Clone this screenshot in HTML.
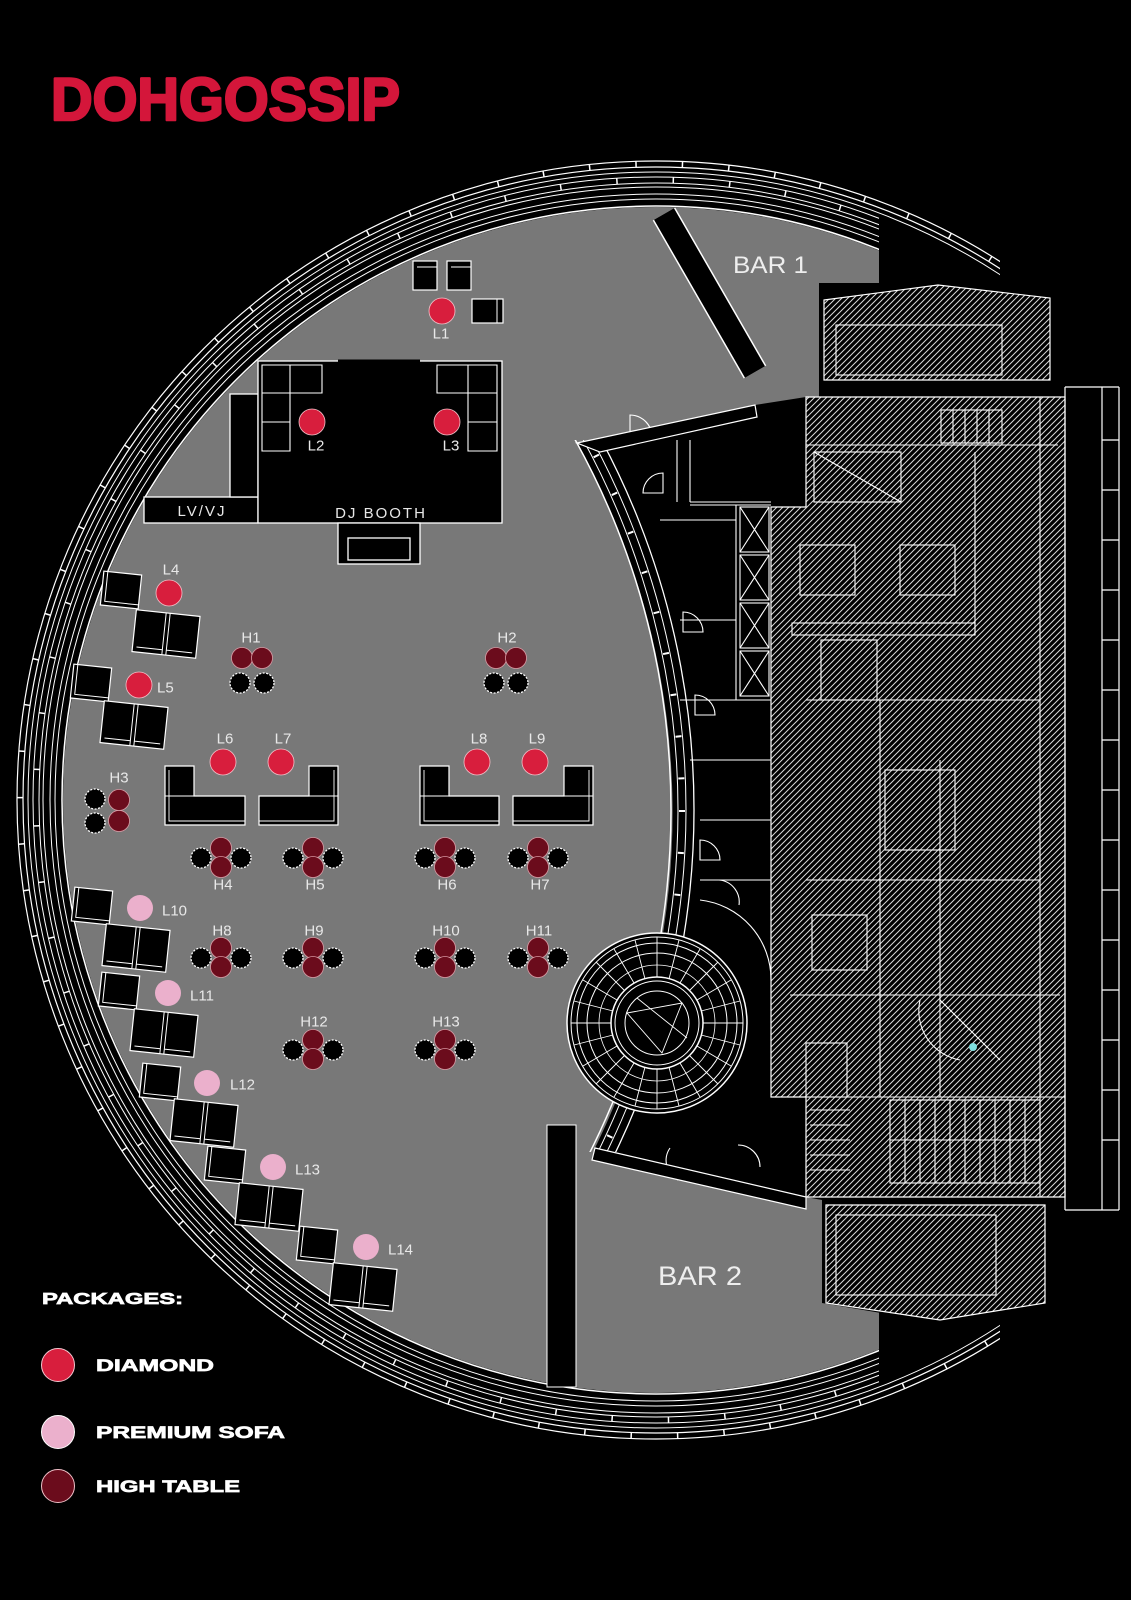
<!DOCTYPE html>
<html><head><meta charset="utf-8"><style>
html,body{margin:0;padding:0;background:#000;}
svg{display:block;}
.lb{font-family:"Liberation Sans",sans-serif;font-size:15px;fill:#e8e8e8;}
.lg{font-family:"Liberation Sans",sans-serif;font-weight:bold;fill:#fff;stroke:#fff;stroke-width:0.7;}
</style></head><body>
<svg width="1131" height="1600" viewBox="0 0 1131 1600" xmlns="http://www.w3.org/2000/svg">
<defs>
<clipPath id="cg"><rect x="0" y="0" width="879" height="1600"/></clipPath>
<clipPath id="co"><rect x="0" y="0" width="1000" height="1600"/></clipPath>
<clipPath id="cw"><rect x="500" y="440" width="300" height="712"/></clipPath>
<pattern id="h" patternUnits="userSpaceOnUse" width="6" height="6">
<path d="M-1,1 l2,-2 M0,6 l6,-6 M5,7 l2,-2" stroke="#d8d8d8" stroke-width="1"/>
</pattern>
<g id="sc"><rect x="-19" y="-17" width="38" height="34" fill="#000" stroke="#fff" stroke-width="1.2"/><path d="M-15,-17 V13 H19" fill="none" stroke="#fff" stroke-width="1"/></g>
<g id="dc"><rect x="-32" y="-21" width="64" height="42" fill="#000" stroke="#fff" stroke-width="1.2"/><path d="M-2,-21 V21 M2,-21 V21 M-28,16 H-2 M2,16 H28" fill="none" stroke="#fff" stroke-width="1"/></g>
<g id="ht"><circle cx="-20" cy="10" r="10" fill="#000" stroke="#fff" stroke-width="1.3" stroke-dasharray="2 1.5"/><circle cx="20" cy="10" r="10" fill="#000" stroke="#fff" stroke-width="1.3" stroke-dasharray="2 1.5"/><circle cx="0" cy="0" r="10.5" fill="#6b0c1c" stroke="#d99aa4" stroke-width="0.8"/><circle cx="0" cy="19" r="10.5" fill="#6b0c1c" stroke="#d99aa4" stroke-width="0.8"/></g>
<g id="h2"><circle cx="-12" cy="25" r="10" fill="#000" stroke="#fff" stroke-width="1.3" stroke-dasharray="2 1.5"/><circle cx="12" cy="25" r="10" fill="#000" stroke="#fff" stroke-width="1.3" stroke-dasharray="2 1.5"/><circle cx="-10" cy="0" r="10.5" fill="#6b0c1c" stroke="#d99aa4" stroke-width="0.8"/><circle cx="10" cy="0" r="10.5" fill="#6b0c1c" stroke="#d99aa4" stroke-width="0.8"/></g>
</defs>
<rect width="1131" height="1600" fill="#000"/>

<!-- title -->
<text x="51" y="120" font-family="Liberation Sans, sans-serif" font-weight="bold" font-size="60" fill="#d4163a" stroke="#d4163a" stroke-width="2.6" stroke-linejoin="round" textLength="349" lengthAdjust="spacingAndGlyphs">DOHGOSSIP</text>

<!-- grey floor -->
<circle cx="656" cy="800" r="593" fill="#787878" clip-path="url(#cg)"/>

<!-- rings -->
<g fill="none" stroke="#fff" clip-path="url(#cg)">
<circle cx="656" cy="800" r="594" stroke-width="1.5"/>
<circle cx="656" cy="800" r="601" stroke-width="1"/>
<circle cx="656" cy="800" r="606" stroke-width="1"/>
<circle cx="656" cy="800" r="613" stroke-width="1"/>
<circle cx="656" cy="800" r="617" stroke-width="1"/>
<circle cx="656" cy="800" r="623" stroke-width="1"/>
</g>
<g fill="none" stroke="#fff" clip-path="url(#co)">
<circle cx="656" cy="800" r="628" stroke-width="1"/>
<circle cx="656" cy="800" r="633" stroke-width="1.2"/>
<circle cx="656" cy="800" r="639" stroke-width="1.2"/>
<circle cx="656" cy="800" r="636" stroke-width="6" stroke-dasharray="1.5 45"/>
<circle cx="656" cy="800" r="620" stroke-width="6" stroke-dasharray="1.5 55" clip-path="url(#cg)"/>
</g>

<!-- black rooms + building mass -->
<path d="M577,443 L755,405 L806,397 L819,397 L819,283 L1131,283 L1131,1300 L1048,1303 L940,1323 L822,1303 L822,1200 L806,1197 L595,1148 A763,763 0 0 0 577,443 Z" fill="#000"/>

<!-- hatched areas -->
<g fill="url(#h)" stroke="#fff" stroke-width="1.2">
<path d="M824,300 L938,285 L1050,298 L1050,380 L824,380 Z"/>
<path d="M806,397 L1065,397 L1065,1197 L806,1197 L806,1097 L771,1097 L771,507 L806,507 Z"/>
<path d="M826,1205 L1045,1205 L1045,1303 L940,1320 L826,1303 Z"/>
</g>
<g fill="none" stroke="#fff" stroke-width="1.1">
<rect x="836" y="325" width="166" height="50"/>
<line x1="806" y1="445" x2="1058" y2="445"/>
<rect x="814" y="452" width="87" height="50"/><line x1="814" y1="452" x2="901" y2="502"/>
<rect x="941" y="410" width="61" height="33"/>
<path d="M953,410V443M965,410V443M977,410V443M989,410V443"/>
<line x1="975" y1="452" x2="975" y2="635"/>
<line x1="1040" y1="397" x2="1040" y2="1197"/>
<rect x="792" y="623" width="183" height="12"/>
<rect x="800" y="545" width="55" height="50"/><rect x="900" y="545" width="55" height="50"/>
<rect x="821" y="640" width="56" height="60"/>
<line x1="806" y1="700" x2="1040" y2="700"/>
<line x1="880" y1="700" x2="880" y2="1097"/>
<line x1="940" y1="760" x2="940" y2="1097"/>
<rect x="885" y="770" width="70" height="80"/>
<line x1="806" y1="880" x2="1040" y2="880"/>
<rect x="812" y="915" width="55" height="55"/>
<line x1="790" y1="995" x2="1060" y2="995"/>
<line x1="940" y1="1000" x2="1000" y2="1060"/>
<path d="M920,1000 A50,50 0 0 0 960,1060"/>
<line x1="771" y1="1097" x2="1065" y2="1097"/>
<rect x="890" y="1100" width="150" height="83"/>
<path d="M890,1140H1040M905,1100V1183M920,1100V1183M935,1100V1183M950,1100V1183M965,1100V1183M980,1100V1183M995,1100V1183M1010,1100V1183M1025,1100V1183"/>
<rect x="806" y="1043" width="41" height="54"/>
<path d="M810,1110H850M810,1125H850M810,1140H850M810,1155H850M810,1170H850"/>
<rect x="836" y="1215" width="160" height="80"/>
</g>
<circle cx="973" cy="1047" r="4" fill="#7fe0e0"/>

<!-- right strip -->
<g stroke="#fff" stroke-width="1.2" fill="none">
<line x1="1065" y1="387" x2="1065" y2="1210"/>
<line x1="1102" y1="387" x2="1102" y2="1210"/>
<line x1="1119" y1="387" x2="1119" y2="1210"/>
<path d="M1065,387H1119M1065,1210H1119M1102,440H1119M1102,490H1119M1102,540H1119M1102,590H1119M1102,640H1119M1102,690H1119M1102,740H1119M1102,790H1119M1102,840H1119M1102,890H1119M1102,940H1119M1102,990H1119M1102,1040H1119M1102,1090H1119M1102,1140H1119"/>
</g>

<!-- rooms between wall and building -->
<g fill="none" stroke="#fff" stroke-width="1.1">
<path d="M690,502H771M690,505H771M736,505V700"/>
<rect x="740" y="507" width="29" height="45"/><path d="M740,507L769,552M769,507L740,552"/>
<rect x="740" y="555" width="29" height="45"/><path d="M740,555L769,600M769,555L740,600"/>
<rect x="740" y="603" width="29" height="45"/><path d="M740,603L769,648M769,603L740,648"/>
<rect x="740" y="651" width="29" height="45"/><path d="M740,651L769,696M769,651L740,696"/>
<path d="M677,440V502M690,440V502M660,520H736M680,620H736M680,700H771M690,760H771M700,820H771M700,880H771"/>
<path d="M643,493 A20,20 0 0 1 663,473 V493Z"/>
<path d="M683,612 A20,20 0 0 1 703,632 H683Z"/>
<path d="M695,695 A20,20 0 0 1 715,715 H695Z"/>
<path d="M700,840 A20,20 0 0 1 720,860 H700Z"/>
<path d="M719,880 A22,22 0 0 1 739,905"/>
<path d="M630,415 A22,22 0 0 1 652,437 H630Z"/>
<path d="M670,1148 A22,22 0 0 0 678,1180"/>
<path d="M738,1145 A22,22 0 0 1 760,1167"/>
<path d="M700,900 A80,80 0 0 1 771,980"/>
</g>

<!-- curved wall -->
<g fill="none" stroke="#fff" clip-path="url(#cw)">
<circle cx="-92" cy="810" r="763" stroke-width="1.5"/>
<circle cx="-92" cy="810" r="770" stroke-width="1"/>
<circle cx="-92" cy="810" r="778" stroke-width="1"/>
<circle cx="-92" cy="810" r="786" stroke-width="1.3"/>
<circle cx="-92" cy="810" r="774" stroke-width="6" stroke-dasharray="2 40"/>
</g>
<g fill="#000" stroke="#fff" stroke-width="1.2">
<path d="M577,443 L755,405 L757,417 L600,452 Z"/>
<path d="M595,1148 L806,1197 L806,1209 L592,1160 Z"/>
</g>

<!-- staircase -->
<g transform="translate(657,1023)" fill="none" stroke="#fff">
<circle r="90" fill="#000" stroke-width="1.5"/>
<circle r="86" stroke-width="1"/>
<circle r="80" stroke-width="1"/>
<circle r="70" stroke-width="1"/>
<circle r="58" stroke-width="0.8"/>
<circle r="46" stroke-width="1.5"/>
<circle r="42" stroke-width="1"/>
<circle r="32" stroke-width="1"/>
<path stroke-width="0.9" d="M46,0H86M44,12L83,22M40,23L74,43M33,33L61,61M23,40L43,74M12,44L22,83M0,46V86M-12,44L-22,83M-23,40L-43,74M-33,33L-61,61M-40,23L-74,43M-44,12L-83,22M-46,0H-86M-44,-12L-83,-22M-40,-23L-74,-43M-33,-33L-61,-61M-23,-40L-43,-74M-12,-44L-22,-83M0,-46V-86M12,-44L22,-83M23,-40L43,-74M33,-33L61,-61M40,-23L74,-43M44,-12L83,-22"/>
<path stroke-width="0.9" d="M-30,-10L25,-20L5,30Z M-20,-25L30,15"/>
</g>

<!-- bars -->
<line x1="664" y1="214" x2="755" y2="372" stroke="#fff" stroke-width="26"/>
<line x1="664" y1="214" x2="755" y2="372" stroke="#000" stroke-width="23"/>
<rect x="547" y="1125" width="29" height="262" fill="#000" stroke="#fff" stroke-width="1"/>
<text x="733" y="273" font-family="Liberation Sans, sans-serif" font-size="24" fill="#eee" textLength="75" lengthAdjust="spacingAndGlyphs">BAR 1</text>
<text x="658" y="1285" font-family="Liberation Sans, sans-serif" font-size="27" fill="#eee" textLength="84" lengthAdjust="spacingAndGlyphs">BAR 2</text>

<!-- DJ booth -->
<g stroke="#fff" stroke-width="1.3">
<rect x="144" y="497" width="114" height="26" fill="#000"/>
<rect x="230" y="394" width="28" height="103" fill="#000"/>
<rect x="258" y="361" width="244" height="162" fill="#000"/>
<rect x="338" y="523" width="82" height="41" fill="#000"/>
<rect x="348" y="538" width="62" height="22" fill="none"/>
</g>
<line x1="338" y1="361" x2="420" y2="361" stroke="#000" stroke-width="3"/>
<g fill="none" stroke="#fff" stroke-width="1.1">
<path d="M262,365H322V393H262Z M290,365V393 M262,393H290V451H262Z M262,422H290"/>
<path d="M437,365H497V393H437Z M468,365V393 M468,393H497V451H468Z M468,422H497"/>
</g>
<text x="202" y="516" class="lb" text-anchor="middle" font-size="15" letter-spacing="2">LV/VJ</text>
<text x="381" y="518" class="lb" text-anchor="middle" font-size="15" letter-spacing="2">DJ BOOTH</text>

<!-- L1 area -->
<g fill="#000" stroke="#fff" stroke-width="1.2">
<rect x="413" y="261" width="24" height="29"/><rect x="447" y="261" width="24" height="29"/>
<rect x="472" y="299" width="31" height="24"/>
</g>
<path d="M417,267H437M451,267H471M497,299V323" stroke="#fff" stroke-width="1"/>

<!-- diamond circles -->
<g fill="#d81e3d" stroke="#f2c0c8" stroke-width="0.8">
<circle cx="442" cy="311" r="13"/>
<circle cx="312" cy="422" r="13"/>
<circle cx="447" cy="422" r="13"/>
<circle cx="169" cy="593" r="13"/>
<circle cx="139" cy="685" r="13"/>
<circle cx="223" cy="762" r="13"/>
<circle cx="281" cy="762" r="13"/>
<circle cx="477" cy="762" r="13"/>
<circle cx="535" cy="762" r="13"/>
</g>
<g fill="#ebb0cc">
<circle cx="140" cy="908" r="13"/>
<circle cx="168" cy="993" r="13"/>
<circle cx="207" cy="1083" r="13"/>
<circle cx="273" cy="1167" r="13"/>
<circle cx="366" cy="1247" r="13"/>
</g>

<!-- lounge chairs -->
<use href="#sc" transform="translate(121,590) rotate(6)"/>
<use href="#dc" transform="translate(166,634) rotate(6)"/>
<use href="#sc" transform="translate(91,683) rotate(6)"/>
<use href="#dc" transform="translate(134,725) rotate(6)"/>
<use href="#sc" transform="translate(92,906) rotate(6)"/>
<use href="#dc" transform="translate(136,948) rotate(6)"/>
<use href="#sc" transform="translate(119,991) rotate(6)"/>
<use href="#dc" transform="translate(164,1033) rotate(6)"/>
<use href="#sc" transform="translate(160,1082) rotate(6)"/>
<use href="#dc" transform="translate(204,1123) rotate(6)"/>
<use href="#sc" transform="translate(225,1165) rotate(6)"/>
<use href="#dc" transform="translate(269,1207) rotate(6)"/>
<use href="#sc" transform="translate(317,1245) rotate(6)"/>
<use href="#dc" transform="translate(363,1287) rotate(6)"/>

<!-- L sofas -->
<g fill="#000" stroke="#fff" stroke-width="1.2">
<path d="M165,766H194V796H245V825H165Z"/>
<path d="M309,766H338V825H259V796H309Z"/>
<path d="M420,766H449V796H499V825H420Z"/>
<path d="M564,766H593V825H513V796H564Z"/>
</g>
<g fill="none" stroke="#fff" stroke-width="0.9">
<path d="M169,770V821H245M165,796H194"/>
<path d="M334,770V821H259M309,796H338"/>
<path d="M424,770V821H499M420,796H449"/>
<path d="M589,770V821H513M564,796H593"/>
</g>

<!-- high tables -->
<use href="#h2" transform="translate(252,658)"/>
<use href="#h2" transform="translate(506,658)"/>
<g>
<circle cx="95" cy="799" r="10" fill="#000" stroke="#fff" stroke-width="1.3" stroke-dasharray="2 1.5"/>
<circle cx="95" cy="823" r="10" fill="#000" stroke="#fff" stroke-width="1.3" stroke-dasharray="2 1.5"/>
<circle cx="119" cy="800" r="10.5" fill="#6b0c1c" stroke="#d99aa4" stroke-width="0.8"/>
<circle cx="119" cy="821" r="10.5" fill="#6b0c1c" stroke="#d99aa4" stroke-width="0.8"/>
</g>
<use href="#ht" transform="translate(221,848)"/>
<use href="#ht" transform="translate(313,848)"/>
<use href="#ht" transform="translate(445,848)"/>
<use href="#ht" transform="translate(538,848)"/>
<use href="#ht" transform="translate(221,948)"/>
<use href="#ht" transform="translate(313,948)"/>
<use href="#ht" transform="translate(445,948)"/>
<use href="#ht" transform="translate(538,948)"/>
<use href="#ht" transform="translate(313,1040)"/>
<use href="#ht" transform="translate(445,1040)"/>

<!-- labels -->
<g class="lb" text-anchor="middle" dominant-baseline="central">
<text x="441" y="334">L1</text>
<text x="316" y="446">L2</text>
<text x="451" y="446">L3</text>
<text x="171" y="570">L4</text>
<text x="251" y="638">H1</text>
<text x="507" y="638">H2</text>
<text x="225" y="739">L6</text>
<text x="283" y="739">L7</text>
<text x="479" y="739">L8</text>
<text x="537" y="739">L9</text>
<text x="119" y="778">H3</text>
<text x="223" y="885">H4</text>
<text x="315" y="885">H5</text>
<text x="447" y="885">H6</text>
<text x="540" y="885">H7</text>
<text x="222" y="931">H8</text>
<text x="314" y="931">H9</text>
<text x="446" y="931">H10</text>
<text x="539" y="931">H11</text>
<text x="314" y="1022">H12</text>
<text x="446" y="1022">H13</text>
</g>
<g class="lb" dominant-baseline="central">
<text x="157" y="688">L5</text>
<text x="162" y="911">L10</text>
<text x="190" y="996">L11</text>
<text x="230" y="1085">L12</text>
<text x="295" y="1170">L13</text>
<text x="388" y="1250">L14</text>
</g>

<!-- legend -->
<text x="42" y="1304" class="lg" font-size="16" textLength="141" lengthAdjust="spacingAndGlyphs">PACKAGES:</text>
<circle cx="58" cy="1365" r="16.5" fill="#d81e3d" stroke="#f3c6cf" stroke-width="1"/>
<circle cx="58" cy="1432" r="16.5" fill="#ebb0cc" stroke="#fff" stroke-width="1"/>
<circle cx="58" cy="1486" r="16.5" fill="#6b0c1c" stroke="#f0c0c8" stroke-width="1"/>
<text x="96" y="1371" class="lg" font-size="17" textLength="118" lengthAdjust="spacingAndGlyphs">DIAMOND</text>
<text x="96" y="1438" class="lg" font-size="17" textLength="189" lengthAdjust="spacingAndGlyphs">PREMIUM SOFA</text>
<text x="96" y="1492" class="lg" font-size="17" textLength="144" lengthAdjust="spacingAndGlyphs">HIGH TABLE</text>
</svg>
</body></html>
